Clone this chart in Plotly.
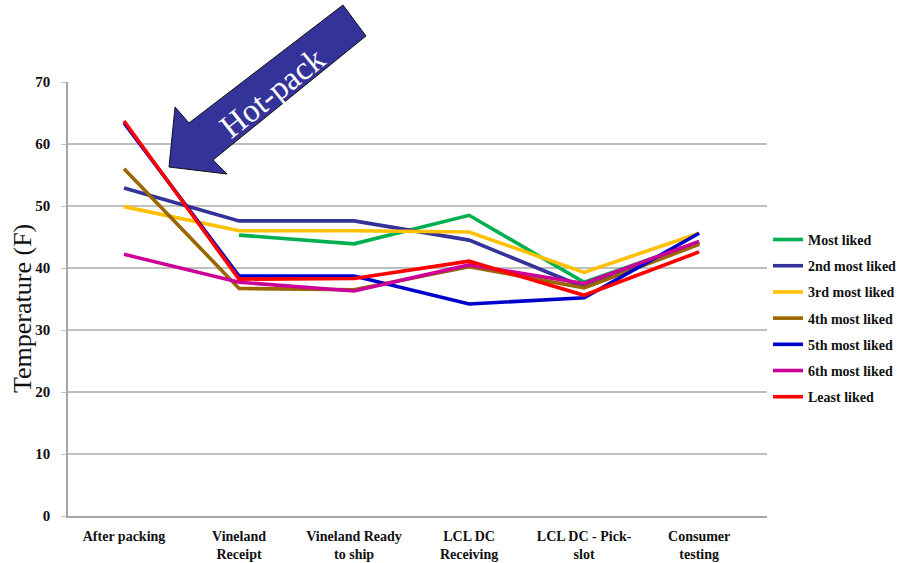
import plotly.graph_objects as go

categories = ["After packing", "Vineland<br>Receipt", "Vineland Ready<br>to ship",
              "LCL DC<br>Receiving", "LCL DC - Pick-<br>slot", "Consumer<br>testing"]

most_liked = [None, 45.3, 43.9, 48.5, 37.7, 44.2]
second_liked = [52.9, 47.6, 47.6, 44.5, 36.9, 44.0]
third_liked = [49.9, 46.0, 46.0, 45.8, 39.3, 45.6]
fourth_liked = [56.0, 36.7, 36.5, 40.2, 36.8, 43.8]
fifth_liked = [63.4, 38.7, 38.7, 34.2, 35.2, 45.6]
sixth_liked = [42.2, 37.7, 36.3, 40.5, 37.5, 44.3]
least_liked = [63.7, 38.2, 38.3, 41.1, 35.6, 42.6]

series_names = ["Most liked", "2nd most liked", "3rd most liked", "4th most liked",
                "5th most liked", "6th most liked", "Least liked"]
series_values = [most_liked, second_liked, third_liked, fourth_liked,
                 fifth_liked, sixth_liked, least_liked]
series_colors = ["#00B050", "#333399", "#FFC000", "#996600", "#0000CC", "#CC0099", "#FF0000"]

y_ticks = [0, 10, 20, 30, 40, 50, 60, 70]

fig = go.Figure()
for i, (name, vals, col) in enumerate(zip(series_names, series_values, series_colors)):
    fig.add_trace(go.Scatter(
        x=list(range(len(categories))), y=vals, mode="lines", name=name,
        line=dict(color=col, width=3.6), connectgaps=False, legendgroup=f"g{i}",
    ))

# figure pixel layout
W, H = 907, 563
L, R, T, B = 68, 140, 82, 47
pw, ph = W - L - R, H - T - B

def px(x, y):
    return ((x - L) / pw, (H - B - y) / ph)

arrow_pts = [(169, 167), (175, 107), (189, 123), (343, 5), (366, 36), (213, 160), (227, 174)]
path = ""
for k, (ax, ay) in enumerate(arrow_pts):
    fx, fy = px(ax, ay)
    path += ("M" if k == 0 else "L") + f"{fx:.4f},{fy:.4f} "
path += "Z"

fig.add_shape(type="path", path=path, xref="paper", yref="paper",
              fillcolor="#333399", line=dict(color="#111111", width=1), layer="above")

tx, ty = px(272, 93)
fig.add_annotation(x=tx, y=ty, xref="paper", yref="paper", text="Hot-pack",
                   showarrow=False, textangle=-38.5, xanchor="center", yanchor="middle",
                   font=dict(family="Liberation Serif", size=33, color="white"))

# y-axis title
yx, yy = px(22, 309)
fig.add_annotation(x=yx, y=yy, xref="paper", yref="paper", text="Temperature (F)",
                   showarrow=False, textangle=-90, xanchor="center", yanchor="middle",
                   font=dict(family="Liberation Serif", size=26, color="#111111"))

fig.update_layout(
    width=W, height=H,
    margin=dict(l=L, r=R, t=T, b=B, pad=0, autoexpand=False),
    plot_bgcolor="white", paper_bgcolor="white",
    font=dict(family="Liberation Serif", color="#111111"),
    legend=dict(x=1.0014, y=0.673, xanchor="left", yanchor="top",
                font=dict(family="Liberation Serif", size=14, color="#111111", weight="bold"),
                tracegroupgap=5, traceorder="grouped", bgcolor="rgba(0,0,0,0)"),
    showlegend=True,
)

fig.update_xaxes(
    tickmode="array", tickvals=list(range(len(categories))), ticktext=categories,
    range=[-0.487, 5.59], showgrid=False, zeroline=False, automargin=False,
    showline=True, linecolor="#A6A6A6", linewidth=1.5, ticklabelstandoff=6,
    ticks="", tickfont=dict(family="Liberation Serif", size=14, color="#111111", weight="bold"),
)
fig.update_yaxes(
    range=[0, 70], tickvals=y_ticks, showgrid=True, gridcolor="#BFBFBF", gridwidth=1.5,
    zeroline=False, showline=True, linecolor="#A6A6A6", linewidth=1.5, automargin=False,
    ticks="outside", ticklen=5, tickcolor="#BFBFBF", ticklabelstandoff=8,
    tickfont=dict(family="Liberation Serif", size=15, color="#111111", weight="bold"),
)

fig.write_html("out.html")
